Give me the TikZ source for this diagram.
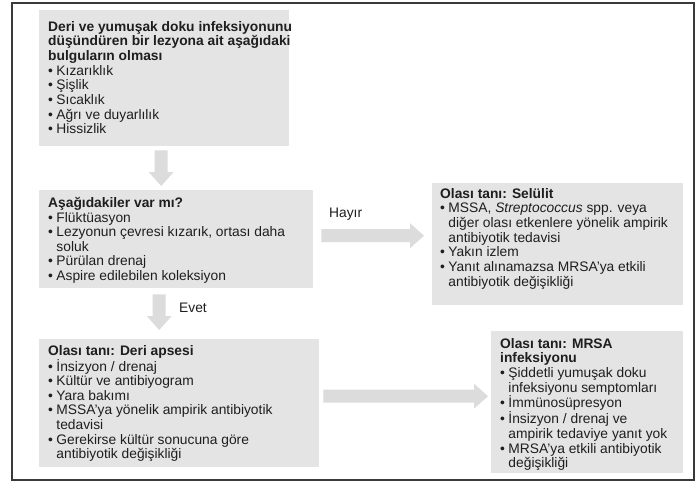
\documentclass[tikz,border=0pt]{standalone}
\usepackage{fontspec}
\setmainfont{Liberation Sans}
\usetikzlibrary{calc}
\definecolor{boxgray}{HTML}{E4E4E4}
\definecolor{arrowgray}{HTML}{DCDCDC}
\definecolor{txt}{HTML}{1E1E1E}
\definecolor{framec}{HTML}{3A3A3A}
\newcommand\bulx{\makebox[0.6em][l]{•}}
\newcommand\bulind{\hspace*{0.6em}}
\newcommand\downblock[2]{%
  \fill[arrowgray] ($(#1)+(-6.5,0)$) -- ($(#1)+(6.5,0)$) -- ($(#2)+(6.5,-14)$)
    -- ($(#2)+(12.5,-14)$) -- (#2) -- ($(#2)+(-12.5,-14)$) -- ($(#2)+(-6.5,-14)$) -- cycle;}
\newcommand\rightblock[2]{%
  \fill[arrowgray] ($(#1)+(0,-6.5)$) -- ($(#2)+(-14,-6.5)$) -- ($(#2)+(-14,-12.5)$)
    -- (#2) -- ($(#2)+(-14,12.5)$) -- ($(#2)+(-14,6.5)$) -- ($(#1)+(0,6.5)$) -- cycle;}
\begin{document}
\begin{tikzpicture}[x=1pt,y=-1pt,
  boxst/.style={fill=boxgray, draw=none, inner sep=0pt, anchor=north west},
  txtst/.style={inner sep=0pt, anchor=north west, align=left, text=txt, font=\fontsize{13.8}{14.65}\selectfont},
  lblst/.style={inner sep=0pt, anchor=base west, text=txt, font=\fontsize{13.8}{14.65}\selectfont}]
\fill[white] (0,0) rectangle (698,490);
\useasboundingbox (0,0) rectangle (698,490);
\draw[framec, line width=1.1pt] (12,3) rectangle (694,480);

\node[boxst, minimum width=250pt, minimum height=136pt] (b1) at (39,10) {};
\node[boxst, minimum width=274pt, minimum height=98pt] (b2) at (39,190) {};
\node[boxst, minimum width=280pt, minimum height=128pt] (b3) at (39,339) {};
\node[boxst, minimum width=251pt, minimum height=122pt] (b4) at (432,183) {};
\node[boxst, minimum width=192pt, minimum height=142pt] (b5) at (491,331) {};

\node[txtst] (t1) at ($(b1.north west)+(9,11)$) {\textbf{Deri ve yumuşak doku infeksiyonunu}\\\textbf{düşündüren bir lezyona ait aşağıdaki}\\\textbf{bulguların olması}\\\bulx Kızarıklık\\\bulx Şişlik\\\bulx Sıcaklık\\\bulx Ağrı ve duyarlılık\\\bulx Hissizlik};
\node[txtst] (t2) at ($(b2.north west)+(9,7)$) {\textbf{Aşağıdakiler var mı?}\\\bulx Flüktüasyon\\\bulx Lezyonun çevresi kızarık, ortası daha\\\bulind soluk\\\bulx Pürülan drenaj\\\bulx Aspire edilebilen koleksiyon};
\node[txtst] (t3) at ($(b3.north west)+(9,6)$) {\textbf{Olası tanı: Deri apsesi}\\\bulx İnsizyon / drenaj\\\bulx Kültür ve antibiyogram\\\bulx Yara bakımı\\\bulx MSSA'ya yönelik ampirik antibiyotik\\\bulind tedavisi\\\bulx Gerekirse kültür sonucuna göre\\\bulind antibiyotik değişikliği};
\node[txtst] (t4) at ($(b4.north west)+(8,5)$) {\textbf{Olası tanı: Selülit}\\\bulx MSSA, \textit{Streptococcus} spp. veya\\\bulind diğer olası etkenlere yönelik ampirik\\\bulind antibiyotik tedavisi\\\bulx Yakın izlem\\\bulx Yanıt alınamazsa MRSA'ya etkili\\\bulind antibiyotik değişikliği};
\node[txtst] (t5) at ($(b5.north west)+(9,7)$) {\textbf{Olası tanı: MRSA}\\\textbf{infeksiyonu}\\\bulx Şiddetli yumuşak doku\\\bulind infeksiyonu semptomları\\\bulx İmmünosüpresyon\\\bulx İnsizyon / drenaj ve\\\bulind ampirik tedaviye yanıt yok\\\bulx MRSA'ya etkili antibiyotik\\\bulind değişikliği};

\coordinate (a1s) at ($(b1.south)+(-3,4)$);
\coordinate (a1e) at ($(a1s |- b2.north)+(0,-4)$);
\coordinate (a2s) at ($(b2.south)+(-17,6)$);
\coordinate (a2e) at ($(a2s |- b3.north)+(0,-9)$);
\coordinate (a3s) at ($(b2.east)+(8,-3.5)$);
\coordinate (a3e) at ($(a3s -| b4.west)+(-8,0)$);
\coordinate (a4s) at ($(b3.east)+(4,-7)$);
\coordinate (a4e) at ($(a4s -| b5.west)+(-3,0)$);
\downblock{a1s}{a1e}
\downblock{a2s}{a2e}
\rightblock{a3s}{a3e}
\rightblock{a4s}{a4e}

\node[lblst] (hayir) at (329,217) {Hayır};
\node[lblst] (evet) at (179,312) {Evet};
\end{tikzpicture}
\end{document}
